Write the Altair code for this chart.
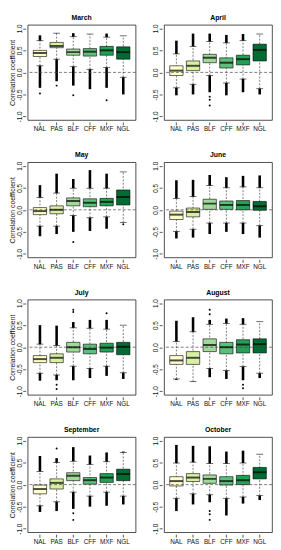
import altair as alt
import pandas as pd

CATS = ["NAL", "PAS", "BLF", "CFF", "MXF", "NGL"]
MONTHS = ["March", "April", "May", "June", "July", "August", "September", "October"]
COLORS = ["#FFFFCC", "#D9F0A3", "#A1D99B", "#5CC07A", "#23A055", "#006B32"]

Q1 = {
    "March": [0.36, 0.56, 0.39, 0.37, 0.39, 0.30],
    "April": [-0.07, 0.04, 0.22, 0.10, 0.17, 0.26],
    "May": [-0.11, -0.09, 0.09, 0.07, 0.09, 0.11],
    "June": [-0.22, -0.16, 0.01, 0.01, 0.00, -0.01],
    "July": [-0.35, -0.35, -0.11, -0.15, -0.11, -0.17],
    "August": [-0.39, -0.39, -0.10, -0.15, -0.13, -0.13],
    "September": [-0.21, -0.10, 0.09, 0.01, 0.05, 0.09],
    "October": [-0.03, 0.07, 0.03, -0.01, 0.00, 0.13],
}
MED = {
    "March": [0.44, 0.60, 0.46, 0.47, 0.50, 0.46],
    "April": [0.04, 0.15, 0.33, 0.22, 0.30, 0.51],
    "May": [-0.03, 0.00, 0.20, 0.16, 0.18, 0.29],
    "June": [-0.11, -0.05, 0.14, 0.11, 0.11, 0.08],
    "July": [-0.27, -0.24, 0.00, -0.04, -0.01, 0.01],
    "August": [-0.30, -0.24, 0.05, 0.00, 0.06, 0.07],
    "September": [-0.10, 0.04, 0.20, 0.10, 0.16, 0.24],
    "October": [0.08, 0.16, 0.13, 0.08, 0.10, 0.28],
}
Q3 = {
    "March": [0.50, 0.68, 0.53, 0.54, 0.59, 0.58],
    "April": [0.15, 0.26, 0.41, 0.33, 0.39, 0.64],
    "May": [0.05, 0.09, 0.27, 0.25, 0.26, 0.45],
    "June": [-0.03, 0.04, 0.24, 0.20, 0.21, 0.19],
    "July": [-0.19, -0.15, 0.11, 0.07, 0.09, 0.11],
    "August": [-0.19, -0.10, 0.19, 0.11, 0.17, 0.19],
    "September": [-0.01, 0.13, 0.27, 0.16, 0.25, 0.35],
    "October": [0.18, 0.25, 0.22, 0.18, 0.21, 0.39],
}
WLO = {
    "March": [0.15, 0.30, 0.13, 0.07, 0.11, -0.11],
    "April": [-0.35, -0.27, -0.07, -0.24, -0.15, -0.37],
    "May": [-0.37, -0.37, -0.13, -0.18, -0.16, -0.29],
    "June": [-0.49, -0.44, -0.30, -0.30, -0.30, -0.36],
    "July": [-0.59, -0.63, -0.43, -0.48, -0.43, -0.58],
    "August": [-0.72, -0.78, -0.48, -0.53, -0.44, -0.59],
    "September": [-0.48, -0.39, -0.17, -0.26, -0.17, -0.26],
    "October": [-0.31, -0.21, -0.23, -0.31, -0.28, -0.25],
}
WHI = {
    "March": [0.72, 0.89, 0.81, 0.87, 0.80, 0.83],
    "April": [0.42, 0.59, 0.70, 0.67, 0.72, 0.87],
    "May": [0.28, 0.38, 0.49, 0.49, 0.49, 0.86],
    "June": [0.26, 0.30, 0.55, 0.50, 0.52, 0.50],
    "July": [0.07, 0.04, 0.44, 0.43, 0.41, 0.50],
    "August": [0.13, 0.35, 0.52, 0.54, 0.52, 0.58],
    "September": [0.30, 0.50, 0.53, 0.46, 0.52, 0.73],
    "October": [0.49, 0.51, 0.48, 0.48, 0.49, 0.69],
}
OUT_LO = {
    "March": [-0.35, -0.20, -0.30, -0.38, -0.35, -0.50],
    "April": [-0.52, -0.50, -0.45, -0.52, -0.45, -0.50],
    "May": [-0.60, -0.55, -0.50, -0.48, -0.43, -0.29],
    "June": [-0.65, -0.63, -0.55, -0.50, -0.55, -0.63],
    "July": [-0.76, -0.75, -0.75, -0.70, -0.65, -0.72],
    "August": [-0.74, -0.78, -0.68, -0.72, -0.75, -0.70],
    "September": [-0.62, -0.60, -0.55, -0.50, -0.48, -0.45],
    "October": [-0.60, -0.45, -0.40, -0.70, -0.43, -0.35],
}
OUT_HI = {
    "March": [0.84, 0.89, 0.89, 0.87, 0.88, 0.83],
    "April": [0.72, 0.88, 0.88, 0.85, 0.87, 0.87],
    "May": [0.56, 0.82, 0.70, 0.90, 0.82, 0.86],
    "June": [0.67, 0.68, 0.79, 0.74, 0.77, 0.78],
    "July": [0.50, 0.49, 0.57, 0.62, 0.62, 0.50],
    "August": [0.60, 0.68, 0.62, 0.65, 0.66, 0.58],
    "September": [0.65, 0.60, 0.85, 0.66, 0.73, 0.75],
    "October": [0.90, 0.88, 0.87, 0.75, 0.77, 0.69],
}

PT_MONTH = ["March", "March", "March", "March", "April", "April", "April", "May", "May",
            "July", "July", "July", "July", "July", "August", "August", "August", "August",
            "September", "September", "September", "October", "October", "October"]
PT_CAT = ["NAL", "PAS", "BLF", "MXF", "BLF", "BLF", "BLF", "BLF", "NGL",
          "PAS", "PAS", "BLF", "BLF", "MXF", "BLF", "BLF", "MXF", "MXF",
          "PAS", "BLF", "BLF", "BLF", "BLF", "BLF"]
PT_VAL = [-0.48, -0.30, -0.52, -0.63, -0.55, -0.62, -0.75, -0.73, -0.33,
          -0.85, -0.95, 0.80, 0.85, 0.77, 0.75, 0.85, -0.85, -0.93,
          0.82, -0.65, -0.80, -0.60, -0.67, -0.80]

rows = []
for m in MONTHS:
    for i, c in enumerate(CATS):
        rows.append(dict(month=m, cat=c, q1=Q1[m][i], med=MED[m][i], q3=Q3[m][i],
                         wl=WLO[m][i], wh=WHI[m][i], ol=OUT_LO[m][i], oh=OUT_HI[m][i]))
df = pd.DataFrame(rows)
pts = pd.DataFrame(dict(month=PT_MONTH, cat=PT_CAT, val=PT_VAL))

W = 110
H = 97
FONT = "Liberation Sans"

xscale = alt.Scale(domain=CATS, paddingInner=0.2, paddingOuter=0.34)
yscale = alt.Scale(domain=[-1.08, 1.08], nice=False, zero=False)
cscale = alt.Scale(domain=CATS, range=COLORS)
LABEL_EXPR = "datum.value < 0 ? '-' + format(-datum.value, '.1f') : format(datum.value, '.1f')"


def panel(m, left):
    d = df[df.month == m]
    p = pts[pts.month == m]
    ytitle = "Correlation coefficient" if left else None
    yaxis = alt.Axis(values=[-1, -0.5, 0, 0.5, 1], labelExpr=LABEL_EXPR, labelAngle=-90,
                     labelAlign="center", labelBaseline="bottom", tickSize=3, offset=2,
                     labelPadding=0.5, titlePadding=1, domain=False, grid=False, title=ytitle)
    xaxis = alt.Axis(labelAngle=0, tickSize=3, offset=2, labelPadding=1, domain=False,
                     grid=False, title=None)
    x = alt.X("cat:N", scale=xscale, axis=xaxis, sort=CATS)
    base = alt.Chart(d)
    whisk = base.mark_rule(strokeDash=[2, 1.5], strokeWidth=0.7, color="#444").encode(
        x=x, y=alt.Y("wl:Q", scale=yscale, axis=yaxis), y2="wh:Q")
    out_lo = base.mark_rule(strokeWidth=2.6, color="black").encode(
        x=x, y=alt.Y("wl:Q", scale=yscale, axis=yaxis), y2="ol:Q")
    out_hi = base.mark_rule(strokeWidth=2.6, color="black").encode(
        x=x, y=alt.Y("wh:Q", scale=yscale, axis=yaxis), y2="oh:Q")
    st_lo = base.mark_tick(size=7, thickness=0.8, color="black").encode(
        x=x, y=alt.Y("wl:Q", scale=yscale, axis=yaxis))
    st_hi = base.mark_tick(size=7, thickness=0.8, color="black").encode(
        x=x, y=alt.Y("wh:Q", scale=yscale, axis=yaxis))
    box = base.mark_bar(stroke="black", strokeWidth=0.6, opacity=1).encode(
        x=x, y=alt.Y("q1:Q", scale=yscale, axis=yaxis), y2="q3:Q",
        color=alt.Color("cat:N", scale=cscale, legend=None))
    zero = alt.Chart(pd.DataFrame({"z": [0]})).mark_rule(
        strokeDash=[3, 2], color="#444", strokeWidth=0.7).encode(
        y=alt.Y("z:Q", scale=yscale, axis=yaxis))
    med = base.mark_tick(size=13.6, thickness=2, color="black").encode(
        x=x, y=alt.Y("med:Q", scale=yscale, axis=yaxis))
    dots = alt.Chart(p).mark_circle(size=4, color="black", opacity=1).encode(
        x=x, y=alt.Y("val:Q", scale=yscale, axis=yaxis))
    return alt.layer(whisk, out_lo, out_hi, st_lo, st_hi, box, zero, med, dots).properties(
        width=W, height=H,
        title=alt.TitleParams(m, fontSize=7, fontWeight="bold", font=FONT, offset=3,
                              anchor="middle", color="#000000"))


panels = [panel(m, i % 2 == 0) for i, m in enumerate(MONTHS)]

chart = alt.concat(*panels, columns=2, spacing={"row": 18, "column": 16}).properties(
    padding=0, background="white"
).configure_view(stroke="#222", strokeWidth=0.8).configure_axis(
    labelFont=FONT, labelFontSize=6.5, labelColor="#111", titleFont=FONT,
    titleFontSize=7, titleFontWeight="normal", titleColor="#111", tickColor="#111",
    tickWidth=0.7).configure_title(color="#000000")

chart.save("out.html", embed_options={"renderer": "svg", "actions": False})
